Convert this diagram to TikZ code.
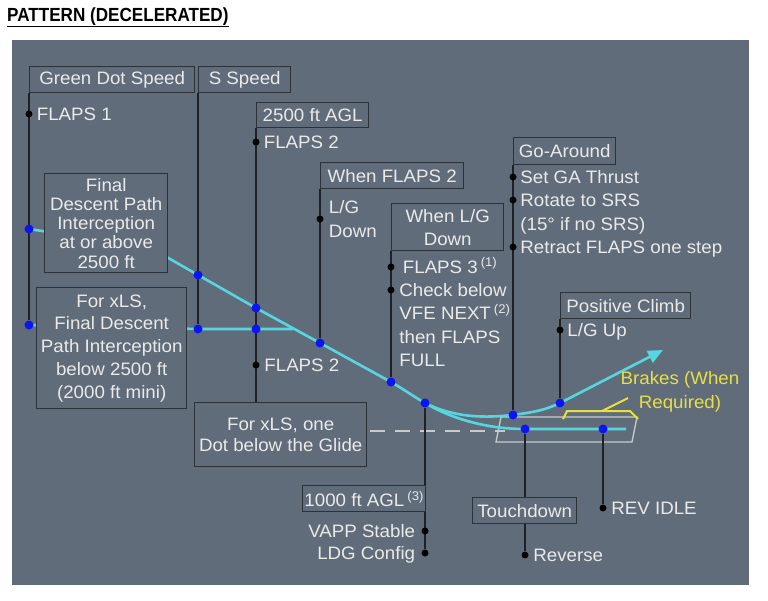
\documentclass[tikz,border=0pt]{standalone}
\usepackage{fontspec}
\setmainfont{Liberation Sans}[FakeStretch=1.04]
\newfontfamily\titlefont{Liberation Sans}[FakeStretch=0.9]
\usetikzlibrary{arrows.meta, positioning, backgrounds}

\definecolor{panel}{RGB}{96,108,122}
\definecolor{edge}{RGB}{44,50,57}
\definecolor{stemc}{RGB}{30,34,40}
\definecolor{txt}{RGB}{234,234,234}
\definecolor{glidec}{RGB}{88,214,224}
\definecolor{dotblue}{RGB}{10,20,245}
\definecolor{runway}{RGB}{200,202,206}
\definecolor{brake}{RGB}{232,224,64}

\newcommand{\fnt}{\fontsize{18}{22.5}\selectfont}

\begin{document}
\begin{tikzpicture}[
    x=1pt, y=-1pt,
    box/.style={draw=edge, line width=1.4pt, fill=panel, text=txt, font=\fnt, align=center, inner sep=0pt, anchor=north west},
    lbl/.style={text=txt, font=\fnt, inner sep=0pt, text height=12.5pt, text depth=0pt},
    brk/.style={text=brake, font=\fontsize{18}{24}\selectfont, align=center, inner sep=0pt},
    dot/.style={circle, fill=black, inner sep=0pt, minimum size=7pt},
    bdot/.style={circle, fill=dotblue, inner sep=0pt, minimum size=9pt},
    stem/.style={draw=stemc, line width=1.5pt},
    glide/.style={draw=glidec, line width=2.6pt},
    arrow/.style={glide, -{Triangle[length=15pt,width=13pt]}},
    rwy/.style={draw=runway, line width=1.3pt},
    beam/.style={draw=runway, line width=1.5pt, dash pattern=on 15pt off 10pt},
    bracket/.style={draw=brake, line width=2pt}
]
\useasboundingbox (0,0) rectangle (768,600);

\node[anchor=base west, inner sep=0pt] (title) at (7,21) {\titlefont\fontsize{19}{22}\selectfont\bfseries\underline{PATTERN (DECELERATED)}};

% Boxes
\node[box, minimum width=165pt, minimum height=26pt] (gds) at (29,66) {Green Dot Speed};
\node[box, minimum width=92pt, minimum height=26pt] (sspd) at (198,66) {S Speed};
\node[box, minimum width=112pt, minimum height=25pt] (agl25) at (256,102) {2500 ft AGL};
\node[box, minimum width=143pt, minimum height=26pt] (wf2) at (320,162) {When FLAPS 2};
\node[box, minimum width=112pt, minimum height=47pt, font=\fontsize{18}{23}\selectfont] (wlg) at (391,203) {When L/G\\Down};
\node[box, minimum width=102pt, minimum height=27pt] (goa) at (513,137) {Go-Around};
\node[box, minimum width=130pt, minimum height=26pt] (pclimb) at (560,292) {Positive Climb};
\node[box, minimum width=123pt, minimum height=99pt, font=\fontsize{18}{19.2}\selectfont] (fdpa) at (44,173) {Final\\Descent Path\\Interception\\at or above\\2500 ft};
\node[box, minimum width=150pt, minimum height=121pt, font=\fontsize{18}{22.75}\selectfont] (fdpb) at (36,287) {For xLS,\\Final Descent\\Path Interception\\below 2500 ft\\(2000 ft mini)};
\node[box, minimum width=172pt, minimum height=64pt, font=\fontsize{18}{21.5}\selectfont] (xone) at (194,402) {For xLS, one\\Dot below the Glide};
\node[box, minimum width=123pt, minimum height=26pt] (agl10) at (302,485) {1000 ft AGL\,\textsuperscript{(3)}};
\node[box, minimum width=104pt, minimum height=26pt] (tdown) at (472,497) {Touchdown};

% Dots
\node[dot] (f1) at (29,114) {};
\node[bdot] (a1) at (29,229) {};
\node[bdot] (b1) at (29,325) {};
\node[bdot] (a2) at (198,275) {};
\node[bdot] (b2) at (198,329) {};
\node[dot] (f2) at (256,142) {};
\node[bdot] (a3) at (256,308) {};
\node[bdot] (b3) at (256,329) {};
\node[dot] (f2b) at (256,365) {};
\node[dot] (lg) at (320,219) {};
\node[bdot] (a4) at (320,343) {};
\node[dot] (f3) at (391,267) {};
\node[dot] (chk) at (391,290) {};
\node[bdot] (a5) at (391,382) {};
\node[bdot] (a6) at (425,403) {};
\node[dot] (vapp) at (425,531) {};
\node[dot] (ldg) at (425,553) {};
\node[dot] (ga1) at (513,177) {};
\node[dot] (ga2) at (513,200) {};
\node[dot] (ga3) at (513,247) {};
\node[bdot] (a7) at (513,415) {};
\node[dot] (lgup) at (560,330) {};
\node[bdot] (a8) at (560,403) {};
\node[bdot] (c1) at (525,429) {};
\node[dot] (rev) at (525,555) {};
\node[bdot] (c2) at (603,429) {};
\node[dot] (ridle) at (603,508) {};

\coordinate (kink) at (150,247.5);
\coordinate (jn) at (293,329);
\coordinate (tip) at (663,350);
\coordinate (rend) at (626,429);
\coordinate (gs) at (370,431);
\coordinate (ge) at (505,431);

% Labels
\node[lbl, right=4pt of f1] {FLAPS 1};
\node[lbl, right=4pt of f2] {FLAPS 2};
\node[lbl, right=5pt of lg, yshift=11.5pt] (lgt) {L/G};
\node[lbl, below=10.5pt of lgt.south west, anchor=north west] {Down};
\node[lbl, right=8pt of f3] {FLAPS 3\,\textsuperscript{(1)}};
\node[lbl, right=4.5pt of chk] (chkt) {Check below};
\node[lbl, below=10.5pt of chkt.south west, anchor=north west] (vfe) {VFE NEXT\,\textsuperscript{(2)}};
\node[lbl, below=10.5pt of vfe.south west, anchor=north west] (thn) {then FLAPS};
\node[lbl, below=10.5pt of thn.south west, anchor=north west] {FULL};
\node[lbl, right=3.5pt of ga1] {Set GA Thrust};
\node[lbl, right=3.5pt of ga2] (rot) {Rotate to SRS};
\node[lbl, below=11pt of rot.south west, anchor=north west] {(15° if no SRS)};
\node[lbl, right=3.5pt of ga3] {Retract FLAPS one step};
\node[lbl, right=3.5pt of lgup] {L/G Up};
\node[lbl, right=4.5pt of f2b] {FLAPS 2};
\node[lbl, left=6pt of vapp] {VAPP Stable};
\node[lbl, left=6pt of ldg] {LDG Config};
\node[lbl, right=4.5pt of rev] {Reverse};
\node[lbl, right=4.5pt of ridle] {REV IDLE};
\node[brk] (brakes) at (680,392) {Brakes (When\\Required)};

% Lines
\begin{scope}[on background layer]
\fill[panel] (12,40) rectangle (749,585);
\draw[beam] (gs) -- (ge);
\draw[rwy] (501,417) -- (637,417) -- (632,442) -- (496,442) -- cycle;
\draw[bracket] (563,419) -- (567,411) -- (630,411) -- (638,419);
\draw[bracket] (602,411) -- (628,398);
\draw[glide] (a1.center) -- (kink) -- (a2.center) -- (a3.center) -- (a4.center) -- (a5.center)
    .. controls (408,392) and (416,398) .. (a6.center)
    .. controls (455,418) and (485,418) .. (a7.center)
    .. controls (535,412) and (545,410) .. (a8.center);
\draw[arrow] (a8.center) -- (tip);
\draw[glide] (b1.center) -- (b2.center) -- (b3.center) -- (jn);
\draw[glide] (a6.center) .. controls (445,415) and (480,429) .. (c1.center) -- (c2.center) -- (rend);
\draw[stem] (gds.south west) -- (b1);
\draw[stem] (sspd.south west) -- (b2);
\draw[stem] (agl25.south west) -- (agl25.south west |- xone.north);
\draw[stem] (wf2.south west) -- (a4);
\draw[stem] (wlg.south west) -- (a5);
\draw[stem] (goa.south west) -- (a7);
\draw[stem] (pclimb.south west) -- (a8);
\draw[stem] (a6) -- (ldg);
\draw[stem] (c1) -- (rev);
\draw[stem] (c2) -- (ridle);
\end{scope}

\end{tikzpicture}
\end{document}
